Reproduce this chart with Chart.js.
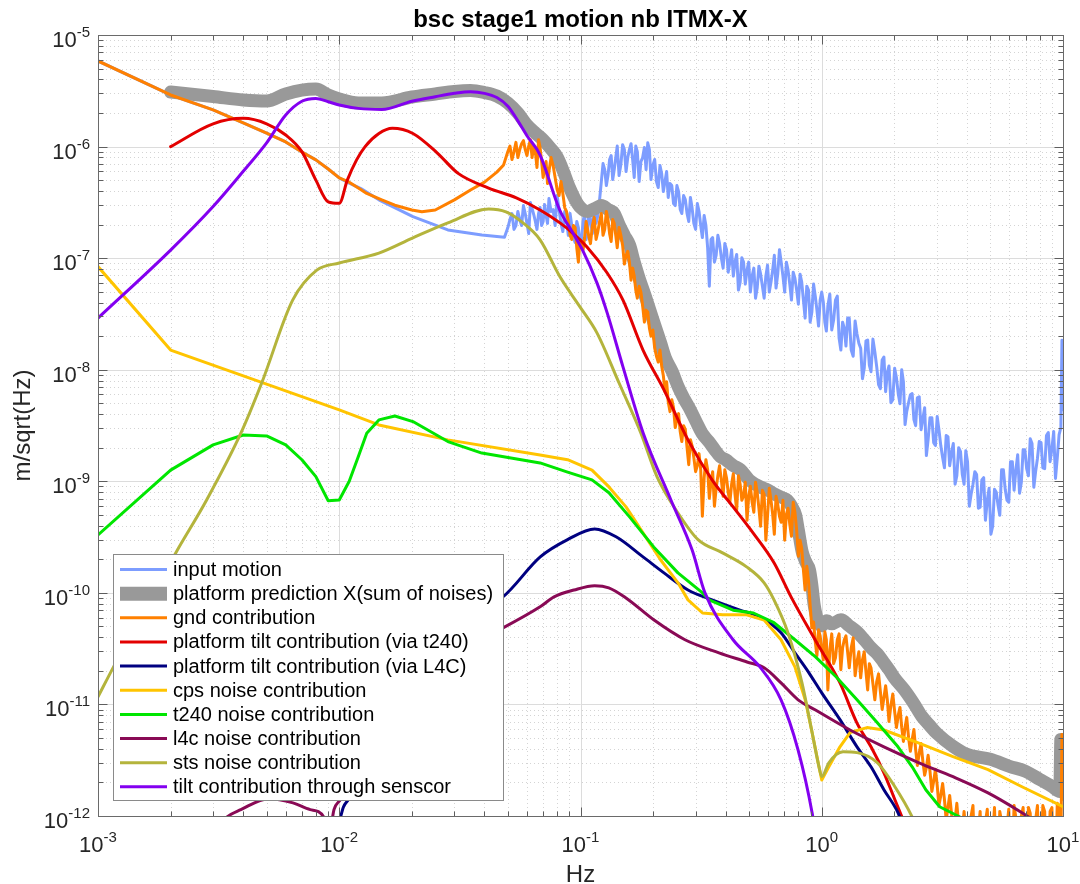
<!DOCTYPE html>
<html>
<head>
<meta charset="utf-8">
<script src="https://cdn.jsdelivr.net/npm/chart.js@4.4.1/dist/chart.umd.min.js"></script>
<style>
html,body{margin:0;padding:0;background:#fff;}
canvas{display:block;}
</style>
</head>
<body>
<canvas id="c" width="1080" height="884"></canvas>
<script>
// ---- axis decades and minor multipliers ----
const xTickExps = [-3, -2, -1, 0, 1];
const yTickExps = [-12, -11, -10, -9, -8, -7, -6, -5];
const minorMult = [2, 3, 4, 5, 6, 7, 8, 9];

// ---- frequency grids of the measured (noisy) spectra, Hz ----
const noiseFreq = [
  0.050,0.052,0.054,0.056,0.058,0.060,0.062,0.064,0.066,0.068,
  0.070,0.072,0.074,0.077,0.080,0.083,0.086,0.089,0.092,0.095,
  0.098,0.101,0.104,0.107,0.110,0.114,0.118,0.122,0.126,0.130,
  0.134,0.138,0.142,0.147,0.152,0.157,0.162,0.167,0.172,0.178,
  0.184,0.190,0.196,0.203,0.210,0.217,0.224,0.231,0.239,0.247,
  0.255,0.263,0.272,0.281,0.290,0.300,0.310,0.320,0.331,0.342,
  0.353,0.365,0.377,0.390,0.403,0.416,0.430,0.444,0.459,0.474,
  0.490,0.506,0.523,0.540,0.558,0.577,0.596,0.616,0.636,0.657,
  0.679,0.702,0.725,0.749,0.774,0.800,0.826,0.853,0.881,0.910,
  0.940,0.970,1.00,1.03,1.06,1.10,1.14,1.18,1.22,1.26,
  1.30,1.35,1.40,1.45,1.50,1.55,1.60,1.66,1.72,1.78,
  1.84,1.90,1.97,2.04,2.11,2.18,2.25,2.33,2.41,2.49,
  2.58,2.67,2.76,2.86,2.96,3.06,3.17,3.28,3.39,3.51,
  3.63,3.76,3.89,4.02,4.16,4.31,4.46,4.61,4.77,4.94,
  5.11,5.29,5.47,5.66,5.86,6.06,6.27,6.49,6.72,6.95,
  7.19,7.44,7.70,7.97,8.25,8.54,8.84,9.15,9.47,9.80,
  9.90,10.0
];
const noiseMidFreq = [
  0.051,0.053,0.055,0.057,0.059,0.061,0.063,0.065,0.067,0.069,
  0.071,0.073,0.0755,0.0785,0.0815,0.0845,0.0875,0.0905,0.0935,0.0965,
  0.0995,0.1025,0.1055,0.1085,0.112,0.116,0.120,0.124,0.128,0.132,
  0.136,0.140,0.1445,0.1495,0.1545,0.1595,0.1645,0.1695,0.175,0.181,
  0.187,0.193,0.1995,0.2065,0.2135,0.2205,0.2275,0.235,0.243,0.251,
  0.259,0.2675,0.2765,0.2855,0.295,0.305,0.315,0.3255,0.3365,0.3475,
  0.359,0.371,0.3835,0.3965,0.4095,0.423,0.437,0.4515,0.4665,0.482,
  0.498,0.5145,0.5315,0.549,0.5675,0.5865,0.606,0.626,0.6465,0.668,
  0.6905,0.7135,0.737,0.7615,0.787,0.813,0.8395,0.867,0.8955,0.925,
  0.955,0.985,1.015,1.045,1.08,1.12,1.16,1.20,1.24,1.28,
  1.325,1.375,1.425,1.475,1.525,1.575,1.63,1.69,1.75,1.81,
  1.87,1.935,2.005,2.075,2.145,2.215,2.29,2.37,2.45,2.535,
  2.625,2.715,2.81,2.91,3.01,3.115,3.225,3.335,3.45,3.57,
  3.695,3.825,3.955,4.09,4.235,4.385,4.535,4.69,4.855,5.025,
  5.2,5.38,5.565,5.76,5.96,6.165,6.38,6.605,6.835,7.07,
  7.315,7.57,7.835,8.11,8.395,8.69,8.995,9.31,9.635
];

// ---- input motion, m/sqrt(Hz) ----
const inputLowFreq = [0.001,0.002,0.003,0.004,0.005,0.006,0.007,0.008,0.009,0.010,0.011,0.0123,0.0146,0.0202,0.0282,0.039,0.0484];
const inputLowVal  = [5.85e-6,2.9e-6,2.13e-6,1.63e-6,1.32e-6,1.1e-6,8.95e-7,7.6e-7,6.3e-7,5.24e-7,4.7e-7,4.2e-7,3.33e-7,2.36e-7,1.79e-7,1.61e-7,1.54e-7];
const inputNoiseVal = [
  1.88e-7,2.51e-7,1.96e-7,2.22e-7,2.96e-7,2.05e-7,3.15e-7,2.46e-7,1.81e-7,2.84e-7,
  2.13e-7,2.41e-7,3.42e-7,2.73e-7,3.64e-7,2.05e-7,2.62e-7,1.6e-7,1.96e-7,1.38e-7,
  1.88e-7,1.47e-7,2.51e-7,1.73e-7,2.22e-7,2.84e-7,2.41e-7,4.86e-7,6.22e-7,5.5e-7,
  8.31e-7,6.22e-7,1.01e-6,6.9e-7,9.4e-7,7.97e-7,1.06e-6,5.28e-7,9.02e-7,7.34e-7,
  9.8e-7,1.08e-6,5.06e-7,7.65e-7,4.29e-7,5.73e-7,4.86e-7,3.5e-7,4.47e-7,2.96e-7,
  3.95e-7,2.51e-7,3.35e-7,2.13e-7,2.84e-7,1.81e-7,2.62e-7,1.53e-7,1.96e-7,5.61e-8,
  1.53e-7,1.06e-7,1.35e-7,8.14e-8,1.19e-7,9.21e-8,6.9e-8,1.08e-7,6.1e-8,9.21e-8,
  7.81e-8,4.96e-8,8.14e-8,5.39e-8,7.19e-8,4.38e-8,8.66e-8,6.1e-8,1.06e-7,7.19e-8,
  9.21e-8,4.96e-8,7.81e-8,4.21e-8,6.62e-8,3.87e-8,6.1e-8,2.9e-8,5.17e-8,3.29e-8,
  4.57e-8,2.46e-8,4.96e-8,2.67e-8,3.72e-8,2.27e-8,4.21e-8,1.92e-8,2.67e-8,1.63e-8,
  2.9e-8,1.32e-8,2.09e-8,1.56e-8,1.03e-8,1.84e-8,9.6e-9,1.44e-8,7.34e-9,1.22e-8,
  6.35e-9,1.08e-8,5.39e-9,8.48e-9,4.96e-9,7.81e-9,4.21e-9,5.97e-9,3.57e-9,5.61e-9,
  2.9e-9,4.57e-9,2.36e-9,3.72e-9,2.09e-9,2.9e-9,1.63e-9,2.57e-9,1.38e-9,2.18e-9,
  1.12e-9,1.84e-9,9.4e-10,1.5e-9,7.65e-10,1.22e-9,5.73e-10,1.03e-9,4.47e-10,8.66e-10,
  3.95e-10,7.97e-10,4.96e-10,1.27e-9,6.76e-10,1.5e-9,8.31e-10,1.73e-9,9.8e-10,1.92e-9,
  1.12e-9,2.18e-9,1.22e-9,2.27e-9,1.32e-9,2.57e-9,1.5e-9,2.79e-9,1.63e-9,3.03e-9,
  1.84e-8,4.38e-9
];
const inputMidVal = [
  2.22e-7,1.81e-7,2.62e-7,1.96e-7,2.51e-7,1.66e-7,2.79e-7,2.13e-7,2.51e-7,1.96e-7,
  3.03e-7,2.05e-7,2.62e-7,1.96e-7,2.73e-7,1.73e-7,2.22e-7,2.51e-7,1.53e-7,2.13e-7,
  1.3e-7,2.13e-7,1.47e-7,2.62e-7,1.66e-7,2.05e-7,3.35e-7,7.04e-7,4.47e-7,7.65e-7,
  5.06e-7,7.97e-7,5.5e-7,1.04e-6,5.97e-7,9.4e-7,7.65e-7,1.01e-6,4.86e-7,7.97e-7,
  6.22e-7,9.4e-7,6.76e-7,4.86e-7,6.76e-7,3.95e-7,5.97e-7,4.66e-7,3.09e-7,4.47e-7,
  2.73e-7,3.64e-7,2.51e-7,3.5e-7,2.05e-7,3.09e-7,1.96e-7,2.41e-7,1.24e-7,1.47e-7,
  9.21e-8,1.6e-7,1.01e-7,1.35e-7,7.49e-8,1.19e-7,9.21e-8,5.17e-8,1.01e-7,5.85e-8,
  9.21e-8,6.9e-8,4.38e-8,8.48e-8,5.61e-8,6.9e-8,4.96e-8,7.81e-8,5.39e-8,1.19e-7,
  6.9e-8,9.21e-8,5.85e-8,7.49e-8,5.17e-8,7.19e-8,4.21e-8,5.61e-8,2.67e-8,5.85e-8,
  3.42e-8,4.21e-8,4.04e-8,2.22e-8,4.76e-8,2.79e-8,4.57e-8,1.5e-8,2.36e-8,2.9e-8,
  1.5e-8,2.73e-8,1.73e-8,8.31e-9,1.81e-8,1.1e-8,1.88e-8,1.06e-8,6.76e-9,1.3e-8,
  9.4e-9,5.06e-9,1.03e-8,6.1e-9,1.0e-8,3.22e-9,5.06e-9,6.1e-9,3.15e-9,5.73e-9,
  3.64e-9,1.7e-9,3.72e-9,2.22e-9,3.8e-9,2.09e-9,1.32e-9,2.51e-9,1.81e-9,9.4e-10,
  2.0e-9,1.15e-9,1.88e-9,5.97e-10,9.4e-10,1.15e-9,5.85e-10,1.08e-9,6.76e-10,3.35e-10,
  8.48e-10,6.1e-10,1.27e-9,8.48e-10,6.49e-10,1.5e-9,1.27e-9,7.81e-10,1.92e-9,1.3e-9,
  2.41e-9,8.84e-10,1.6e-9,2.22e-9,1.3e-9,2.73e-9,1.96e-9,1.06e-9,2.62e-9
];

// ---- platform prediction (sum of noises) ----
const sumFreq = [0.002,0.003,0.004,0.005,0.006,0.007,0.008,0.009,0.010,0.012,0.015,0.020,0.025,0.030,0.035,0.040,0.045,0.050,0.055,0.060,
  0.065,0.070,0.075,0.080,0.085,0.090,0.095,0.100,0.107,0.115,0.122,0.130,0.138,0.145,0.152,0.160,0.167,0.175,0.185,0.195,
  0.205,0.215,0.225,0.24,0.255,0.27,0.285,0.30,0.32,0.34,0.36,0.38,0.40,0.43,0.46,0.50,0.53,0.56,0.60,0.64,
  0.68,0.72,0.75,0.78,0.80,0.83,0.86,0.89,0.91,0.93,0.96,1.0,1.05,1.1,1.2,1.3,1.4,1.5,1.6,1.7,
  1.8,1.9,2.0,2.2,2.4,2.6,2.8,3.0,3.5,4.0,5.0,6.0,7.0,8.0,9.0,9.7,9.8,10];
const sumVal = [3.08e-6,2.81e-6,2.62e-6,2.56e-6,2.96e-6,3.21e-6,3.28e-6,2.9e-6,2.67e-6,2.46e-6,2.46e-6,2.78e-6,2.96e-6,3.12e-6,3.18e-6,3.05e-6,2.84e-6,2.46e-6,2.0e-6,1.56e-6,
  1.32e-6,1.15e-6,9.7e-7,8.07e-7,5.97e-7,4.29e-7,3.35e-7,2.84e-7,2.62e-7,2.79e-7,2.96e-7,2.73e-7,2.51e-7,1.96e-7,1.6e-7,1.3e-7,9.21e-8,6.62e-8,4.66e-8,3.29e-8,
  2.36e-8,1.73e-8,1.27e-8,9.6e-9,6.9e-9,5.39e-9,4.38e-9,3.5e-9,2.67e-9,2.27e-9,1.92e-9,1.66e-9,1.56e-9,1.38e-9,1.27e-9,1.03e-9,9.4e-10,8.84e-10,8.31e-10,7.65e-10,
  7.19e-10,6.76e-10,5.97e-10,4.96e-10,3.64e-10,2.32e-10,1.88e-10,1.6e-10,1.17e-10,7.81e-11,5.73e-11,5.06e-11,5.61e-11,5.28e-11,5.73e-11,5.06e-11,4.47e-11,3.8e-11,3.22e-11,2.84e-11,
  2.41e-11,2.05e-11,1.73e-11,1.35e-11,1.03e-11,7.81e-12,6.49e-12,5.5e-12,4.21e-12,3.57e-12,3.22e-12,2.79e-12,2.51e-12,2.13e-12,1.84e-12,1.66e-12,4.86e-12,4.38e-12];

// ---- gnd contribution ----
const gndLowFreq = [0.001,0.002,0.003,0.004,0.005,0.006,0.007,0.008,0.009,0.010,0.011,0.012,0.013,0.015,0.017,0.020,0.022,0.025,0.030,0.035,0.040,0.045,0.048];
const gndLowVal  = [5.85e-6,2.9e-6,2.13e-6,1.63e-6,1.32e-6,1.1e-6,8.95e-7,7.6e-7,6.3e-7,5.24e-7,4.8e-7,4.25e-7,3.8e-7,3.33e-7,2.98e-7,2.7e-7,2.6e-7,2.7e-7,3.33e-7,4.08e-7,4.8e-7,5.9e-7,6.85e-7];
const gndNoiseVal = [
  9.02e-7,7.65e-7,1.09e-6,9.4e-7,1.13e-6,8.31e-7,1.15e-6,1.01e-6,6.49e-7,9.8e-7,
  5.28e-7,7.34e-7,5.97e-7,6.76e-7,4.12e-7,4.86e-7,2.84e-7,2.13e-7,1.47e-7,1.88e-7,
  9.21e-8,1.3e-7,1.53e-7,1.81e-7,1.35e-7,2.32e-7,1.73e-7,2.51e-7,1.81e-7,2.22e-7,
  1.41e-7,2.05e-7,1.24e-7,1.6e-7,8.84e-8,1.15e-7,6.35e-8,6.9e-8,4.38e-8,4.96e-8,
  2.67e-8,3.29e-8,2.0e-8,1.56e-8,1.17e-8,1.08e-8,6.35e-9,5.17e-9,5.39e-9,3.03e-9,
  4.04e-9,2.27e-9,2.9e-9,1.41e-9,2.09e-9,1.22e-9,1.77e-9,4.86e-10,1.56e-9,7.04e-10,
  1.22e-9,8.66e-10,1.38e-9,7.34e-10,1.07e-9,6.49e-10,1.17e-9,5.5e-10,9.4e-10,7.34e-10,
  4.47e-10,9.02e-10,5.28e-10,7.97e-10,3.95e-10,7.65e-10,4.86e-10,6.76e-10,3.35e-10,6.22e-10,
  4.29e-10,2.96e-10,5.73e-10,3.22e-10,5.28e-10,2.13e-10,2.51e-10,1.06e-10,1.3e-10,4.86e-11,
  3.64e-11,4.66e-11,3.09e-11,4.47e-11,1.35e-11,4.29e-11,2.62e-11,4.29e-11,3.22e-11,4.12e-11,
  2.13e-11,3.95e-11,2.41e-11,1.73e-11,2.96e-11,1.35e-11,2.13e-11,1.1e-11,1.88e-11,9.02e-12,
  1.47e-11,7.04e-12,1.24e-11,6.22e-12,9.4e-12,4.66e-12,7.65e-12,3.8e-12,5.97e-12,2.84e-12,
  4.47e-12,2.32e-12,3.5e-12,1.66e-12,2.62e-12,1.24e-12,1.96e-12,9.21e-13,1.53e-12,6.9e-13,
  1.3e-12,5.85e-13,1.1e-12,4.96e-13,1.0e-12,4.38e-13,7.49e-13,4.04e-13,8.84e-13,3.87e-13,
  6.35e-13,3.72e-13,1.1e-12,3.57e-13,8.14e-13,3.57e-13,1.24e-12,3.42e-13,1.0e-12,3.42e-13,
  1.19e-12,3.42e-13,9.21e-13,3.42e-13,1.24e-12,3.42e-13,1.1e-12,3.57e-13,1.3e-12,4.96e-13,
  5.39e-12,1.41e-12
];
const gndMidVal = [
  1.01e-6,9.02e-7,7.97e-7,1.06e-6,9.4e-7,1.01e-6,7.97e-7,9.02e-7,1.15e-6,7.34e-7,
  6.22e-7,4.66e-7,7.97e-7,5.28e-7,3.64e-7,3.8e-7,2.62e-7,1.6e-7,1.96e-7,1.24e-7,
  1.47e-7,1.19e-7,2.13e-7,1.53e-7,1.96e-7,1.47e-7,2.13e-7,1.6e-7,2.62e-7,1.66e-7,
  2.22e-7,1.6e-7,1.88e-7,1.3e-7,1.06e-7,9.21e-8,8.14e-8,5.17e-8,5.61e-8,3.72e-8,
  3.42e-8,2.36e-8,2.27e-8,1.32e-8,1.5e-8,8.84e-9,7.81e-9,4.21e-9,4.57e-9,3.57e-9,
  2.79e-9,3.15e-9,2.0e-9,2.36e-9,1.63e-9,1.38e-9,1.27e-9,1.08e-9,1.27e-9,9.8e-10,
  5.97e-10,1.12e-9,1.03e-9,1.27e-9,7.97e-10,9.4e-10,7.65e-10,1.12e-9,6.76e-10,9.8e-10,
  7.34e-10,6.49e-10,9.8e-10,5.73e-10,8.31e-10,2.96e-10,8.66e-10,5.06e-10,7.34e-10,4.86e-10,
  6.76e-10,5.06e-10,4.12e-10,6.49e-10,3.64e-10,2.96e-10,1.6e-10,1.73e-10,7.65e-11,5.5e-11,
  2.73e-11,4.12e-11,2.51e-11,3.8e-11,3.09e-11,2.32e-11,3.8e-11,2.05e-11,3.8e-11,2.96e-11,
  3.22e-11,1.81e-11,2.96e-11,2.51e-11,1.96e-11,2.32e-11,1.53e-11,1.6e-11,1.3e-11,1.15e-11,
  1.1e-11,9.8e-12,8.66e-12,7.97e-12,6.22e-12,6.22e-12,5.06e-12,4.86e-12,3.95e-12,3.64e-12,
  3.09e-12,2.73e-12,2.51e-12,2.05e-12,1.88e-12,1.53e-12,1.41e-12,1.19e-12,1.06e-12,9.21e-13,
  8.14e-13,7.49e-13,6.9e-13,6.1e-13,1.24e-12,5.17e-13,1.1e-12,4.76e-13,1.15e-12,4.38e-13,
  1.19e-12,4.04e-13,8.84e-13,4.04e-13,1.15e-12,3.87e-13,9.6e-13,3.87e-13,1.19e-12,3.87e-13,
  1.06e-12,3.72e-13,1.24e-12,3.72e-13,1.1e-12,3.72e-13,1.19e-12,3.72e-13,1.15e-12
];

// ---- platform tilt contribution (via t240) ----
const t240TiltFreq = [0.002,0.003,0.004,0.005,0.006,0.007,0.008,0.009,0.010,0.0108,0.0118,0.0128,0.0146,0.0166,0.0202,0.0255,0.0311,0.0416,0.0542,0.068,
  0.0822,0.0928,0.1064,0.1288,0.150,0.1816,0.2218,0.279,0.351,0.429,0.519,0.634,0.746,0.938,1.19,1.40,1.60,1.81,2.01,2.15,2.35];
const t240TiltVal = [1.0e-6,1.6e-6,1.79e-6,1.6e-6,1.27e-6,9.0e-7,5.0e-7,3.2e-7,3.1e-7,5.0e-7,7.6e-7,1.0e-6,1.31e-6,1.46e-6,1.31e-6,8.75e-7,5.75e-7,4.25e-7,3.47e-7,2.7e-7,
  2.07e-7,1.68e-7,1.26e-7,7.4e-8,4.2e-8,1.5e-8,6.6e-9,2.35e-9,1.03e-9,5.9e-10,3.45e-10,1.86e-10,9.2e-11,3.8e-11,1.56e-11,6.8e-12,4.17e-12,2.44e-12,1.4e-12,9.8e-13,6e-13];

// ---- platform tilt contribution (via L4C) ----
const l4cTiltFreq = [0.0099,0.0104,0.0109,0.0216,0.0348,0.0477,0.0681,0.0884,0.1145,0.1404,0.1816,0.2218,0.279,0.351,0.458,0.554,0.678,0.774,0.885,1.0,1.19,1.4,1.6,1.81,2.07,2.2];
const l4cTiltVal = [8e-13,1.2e-12,1.4e-12,2.5e-11,6.4e-11,9.2e-11,2.1e-10,3.0e-10,3.74e-10,3.18e-10,2.1e-10,1.51e-10,1.06e-10,8.65e-11,7.0e-11,6.1e-11,4.4e-11,2.9e-11,1.92e-11,1.27e-11,7.3e-12,4.17e-12,2.76e-12,1.72e-12,1.07e-12,7.5e-13];

// ---- cps noise contribution ----
const cpsFreq = [0.001,0.002,0.01,0.0146,0.0282,0.068,0.0884,0.1116,0.1312,0.1544,0.1816,0.2146,0.2535,0.279,0.3205,0.388,0.488,0.577,0.678,0.774,
  0.854,0.912,0.974,1.0,1.07,1.19,1.31,1.54,1.81,2.53,3.5,4.89,6.76,10];
const cpsVal = [8.4e-8,1.5e-8,4.37e-9,3.2e-9,2.35e-9,1.72e-9,1.56e-9,1.26e-9,8.9e-10,5.9e-10,3.45e-10,1.98e-10,1.23e-10,8.65e-11,6.6e-11,6.35e-11,6.35e-11,5.7e-11,3.8e-11,2.17e-11,
  1.1e-11,5.6e-12,2.76e-12,2.1e-12,2.76e-12,4.17e-12,5.6e-12,6.2e-12,5.9e-12,4.5e-12,3.4e-12,2.6e-12,1.83e-12,1.21e-12];

// ---- t240 noise contribution ----
const t240Freq = [0.001,0.002,0.003,0.004,0.005,0.006,0.007,0.008,0.009,0.010,0.011,0.012,0.013,0.0146,0.017,0.0202,0.0282,0.039,0.068,0.0884,
  0.1116,0.1312,0.1597,0.201,0.2535,0.3205,0.341,0.429,0.521,0.634,0.774,0.942,1.146,1.4,1.70,2.07,2.37,2.70,3.08,3.74,4.2];
const t240Val = [3.3e-10,1.26e-9,2.12e-9,2.6e-9,2.55e-9,2.12e-9,1.56e-9,1.1e-9,6.7e-10,6.8e-10,1.0e-9,1.67e-9,2.7e-9,3.55e-9,3.85e-9,3.43e-9,2.27e-9,1.79e-9,1.46e-9,1.21e-9,
  1.03e-9,7.9e-10,4.8e-10,2.58e-10,1.51e-10,1.0e-10,8.65e-11,7.0e-11,6.6e-11,5.4e-11,3.8e-11,2.67e-11,1.77e-11,1.1e-11,6.85e-12,4.17e-12,2.76e-12,1.72e-12,1.21e-12,9.8e-13,7e-13];

// ---- l4c noise contribution ----
const l4cFreq = [0.003,0.00343,0.00391,0.0051,0.00643,0.00758,0.00862,0.009,0.00951,0.0101,0.0178,0.0315,0.0477,0.068,0.0777,0.094,0.1145,0.131,0.1544,0.2018,
  0.271,0.375,0.49,0.577,0.678,0.798,0.938,1.31,1.81,2.53,3.5,4.89,6.76,7.2,8.0];
const l4cVal = [7e-13,9.8e-13,1.14e-12,1.43e-12,1.31e-12,1.14e-12,9.8e-13,6e-13,1.14e-12,1.4e-12,1.1e-11,3.1e-11,4.85e-11,7.5e-11,9.2e-11,1.06e-10,1.16e-10,1.11e-10,9.0e-11,5.7e-11,
  3.8e-11,2.9e-11,2.4e-11,2.13e-11,1.56e-11,1.1e-11,8.95e-12,5.9e-12,4.17e-12,3.0e-12,2.25e-12,1.61e-12,1.07e-12,9.8e-13,8.5e-13];

// ---- sts noise contribution ----
const stsFreq = [0.001,0.00116,0.0021,0.00282,0.00391,0.00477,0.00641,0.00807,0.01,0.0146,0.0202,0.0282,0.0416,0.0491,0.0578,0.068,0.0822,0.0995,0.117,0.1445,
  0.178,0.2075,0.2535,0.307,0.388,0.488,0.577,0.634,0.724,0.828,0.912,0.974,1.0,1.07,1.225,1.4,1.70,2.01,2.37,2.6];
const stsVal = [1.17e-11,2.17e-11,2.28e-10,6.8e-10,2.7e-9,7.6e-9,4.2e-8,7.8e-8,9.05e-8,1.11e-7,1.52e-7,2.07e-7,2.76e-7,2.6e-7,2.07e-7,1.46e-7,6.8e-8,3.66e-8,2.14e-8,7.6e-9,
  2.7e-9,1.1e-9,5.2e-10,3.0e-10,2.28e-10,1.71e-10,1.23e-10,8.65e-11,4.4e-11,1.56e-11,5.6e-12,2.76e-12,2.25e-12,3.0e-12,3.76e-12,3.7e-12,3.0e-12,1.83e-12,9.8e-13,6e-13];

// ---- tilt contribution through senscor ----
const senscorFreq = [0.001,0.002,0.003,0.004,0.005,0.006,0.007,0.008,0.009,0.01,0.012,0.015,0.02,0.025,0.03,0.035,0.04,0.045,0.05,0.055,
  0.06,0.068,0.082,0.093,0.102,0.117,0.129,0.15,0.182,0.237,0.29,0.328,0.429,0.554,0.678,0.798,0.912,0.95];
const senscorVal = [2.9e-8,1.18e-7,2.9e-7,6.0e-7,1.08e-6,1.92e-6,2.55e-6,2.7e-6,2.52e-6,2.36e-6,2.2e-6,2.15e-6,2.55e-6,2.8e-6,3.0e-6,3.1e-6,3.0e-6,2.75e-6,2.3e-6,1.7e-6,
  1.25e-6,8.4e-7,2.7e-7,1.68e-7,1.18e-7,6.0e-8,3.23e-8,1.06e-8,2.7e-9,6.8e-10,2.43e-10,1.0e-10,3.8e-11,2.17e-11,1.1e-11,3.9e-12,1.07e-12,6e-13];

const seriesNames = [
  'input motion',
  'platform prediction X(sum of noises)',
  'gnd contribution',
  'platform tilt contribution (via t240)',
  'platform tilt contribution (via L4C)',
  'cps noise contribution',
  't240 noise contribution',
  'l4c noise contribution',
  'sts noise contribution',
  'tilt contribution through senscor'
];

// ---- styling ----
const seriesColors = ['#7d9dff','#999999','#ff8000','#e30000','#000080','#ffc400','#00e600','#890a55','#b4b43c','#8300f0'];
const seriesWidths = [3, 13, 3, 3, 3, 3, 3, 3, 3, 3];
const seriesSmooth = [false, true, false, true, true, false, false, true, true, true];
const FONT = '"Liberation Sans", Arial, Helvetica, sans-serif';

function pts(fs, vs) { return fs.map((f, i) => ({ x: f, y: vs[i] })); }
// interleave two sampled sets into one frequency-ordered trace
function mergeByFreq(fa, va, fb, vb) {
  return pts(fa, va).concat(pts(fb, vb)).sort((p, q) => p.x - q.x);
}

const seriesData = [
  pts(inputLowFreq, inputLowVal).concat(mergeByFreq(noiseFreq, inputNoiseVal, noiseMidFreq, inputMidVal)),
  pts(sumFreq, sumVal),
  pts(gndLowFreq, gndLowVal).concat(mergeByFreq(noiseFreq, gndNoiseVal, noiseMidFreq, gndMidVal)),
  pts(t240TiltFreq, t240TiltVal),
  pts(l4cTiltFreq, l4cTiltVal),
  pts(cpsFreq, cpsVal),
  pts(t240Freq, t240Val),
  pts(l4cFreq, l4cVal),
  pts(stsFreq, stsVal),
  pts(senscorFreq, senscorVal)
];

const datasets = seriesData.map((d, i) => ({
  label: seriesNames[i],
  data: d,
  borderColor: seriesColors[i],
  backgroundColor: seriesColors[i],
  borderWidth: seriesWidths[i],
  pointRadius: 0,
  pointHoverRadius: 0,
  tension: 0,
  cubicInterpolationMode: seriesSmooth[i] ? 'monotone' : 'default',
  capBezierPoints: false,
  borderJoinStyle: 'round',
  borderCapStyle: 'round',
  fill: false,
  order: seriesNames.length - i   // later series are painted on top
}));

// grid, frame, tick marks, tick labels, titles and legend
const axesPainter = {
  id: 'axesPainter',
  beforeDatasetsDraw(chart) {
    const { ctx, chartArea: a, scales: { x, y } } = chart;
    ctx.save();
    ctx.lineWidth = 1;
    // minor grid (dotted)
    ctx.strokeStyle = '#d4d4d4';
    ctx.setLineDash([1, 3]);
    ctx.beginPath();
    for (const e of xTickExps.slice(0, -1)) for (const m of minorMult) {
      const px = Math.round(x.getPixelForValue(m * Math.pow(10, e))) + 0.5;
      ctx.moveTo(px, a.top); ctx.lineTo(px, a.bottom);
    }
    for (const e of yTickExps.slice(0, -1)) for (const m of minorMult) {
      const py = Math.round(y.getPixelForValue(m * Math.pow(10, e))) + 0.5;
      ctx.moveTo(a.left, py); ctx.lineTo(a.right, py);
    }
    ctx.stroke();
    // major grid (solid)
    ctx.setLineDash([]);
    ctx.strokeStyle = '#dcdcdc';
    ctx.beginPath();
    for (const e of xTickExps) {
      const px = Math.round(x.getPixelForValue(Math.pow(10, e))) + 0.5;
      ctx.moveTo(px, a.top); ctx.lineTo(px, a.bottom);
    }
    for (const e of yTickExps) {
      const py = Math.round(y.getPixelForValue(Math.pow(10, e))) + 0.5;
      ctx.moveTo(a.left, py); ctx.lineTo(a.right, py);
    }
    ctx.stroke();
    ctx.restore();
  },
  afterDatasetsDraw(chart) {
    const { ctx, chartArea: a, scales: { x, y } } = chart;
    ctx.save();
    const L = Math.round(a.left) + 0.5, R = Math.round(a.right) + 0.5;
    const T = Math.round(a.top) + 0.5, B = Math.round(a.bottom) + 0.5;
    // tick marks on all four sides
    ctx.strokeStyle = '#5e5e5e';
    ctx.lineWidth = 1;
    ctx.beginPath();
    const xt = (v, len) => { const px = Math.round(x.getPixelForValue(v)) + 0.5;
      ctx.moveTo(px, B); ctx.lineTo(px, B - len); ctx.moveTo(px, T); ctx.lineTo(px, T + len); };
    const yt = (v, len) => { const py = Math.round(y.getPixelForValue(v)) + 0.5;
      ctx.moveTo(L, py); ctx.lineTo(L + len, py); ctx.moveTo(R, py); ctx.lineTo(R - len, py); };
    for (const e of xTickExps) { xt(Math.pow(10, e), 9); if (e < 1) for (const m of minorMult) xt(m * Math.pow(10, e), 5); }
    for (const e of yTickExps) { yt(Math.pow(10, e), 9); if (e < -5) for (const m of minorMult) yt(m * Math.pow(10, e), 5); }
    ctx.stroke();
    // frame
    ctx.strokeStyle = '#6a6a6a';
    ctx.strokeRect(L, T, R - L, B - T);

    // tick labels: 10 with superscript exponent
    ctx.fillStyle = '#262626';
    ctx.textBaseline = 'alphabetic';
    const baseFont = '22px ' + FONT, expFont = '15px ' + FONT;
    for (const e of xTickExps) {
      const px = x.getPixelForValue(Math.pow(10, e));
      const ex = String(e);
      ctx.font = baseFont; const wb = ctx.measureText('10').width;
      ctx.font = expFont; const we = ctx.measureText(ex).width;
      const x0 = px - (wb + we) / 2;
      ctx.textAlign = 'left';
      ctx.font = baseFont; ctx.fillText('10', x0, a.bottom + 36);
      ctx.font = expFont; ctx.fillText(ex, x0 + wb, a.bottom + 26);
    }
    for (const e of yTickExps) {
      const py = y.getPixelForValue(Math.pow(10, e));
      const ex = String(e);
      ctx.font = expFont; const we = ctx.measureText(ex).width;
      ctx.textAlign = 'right';
      ctx.fillText(ex, a.left - 8, py + 2);
      ctx.font = baseFont; ctx.fillText('10', a.left - 8 - we, py + 12);
    }

    // axis labels
    ctx.fillStyle = '#262626';
    ctx.font = '24px ' + FONT;
    ctx.textAlign = 'center';
    ctx.fillText('Hz', (a.left + a.right) / 2, 882);
    ctx.save();
    ctx.translate(30, (a.top + a.bottom) / 2);
    ctx.rotate(-Math.PI / 2);
    ctx.fillText('m/sqrt(Hz)', 0, 0);
    ctx.restore();

    // title
    ctx.fillStyle = '#000';
    ctx.font = 'bold 24px ' + FONT;
    ctx.fillText('bsc stage1 motion nb ITMX-X', (a.left + a.right) / 2, 27);

    // legend box
    const lx = 113.5, ly = 554.5, lw = 390, lh = 246;
    ctx.fillStyle = '#fff';
    ctx.fillRect(lx, ly, lw, lh);
    ctx.strokeStyle = '#8a8a8a';
    ctx.lineWidth = 1;
    ctx.strokeRect(lx, ly, lw, lh);
    ctx.font = '20px ' + FONT;
    ctx.textAlign = 'left';
    ctx.textBaseline = 'middle';
    chart.data.datasets.forEach((ds, i) => {
      const ry = 569.5 + i * 24.15;
      ctx.strokeStyle = ds.borderColor;
      ctx.lineWidth = i === 1 ? 14 : 3;
      ctx.lineCap = 'butt';
      ctx.beginPath(); ctx.moveTo(120, ry); ctx.lineTo(167, ry); ctx.stroke();
      ctx.fillStyle = '#000';
      ctx.fillText(ds.label, 173, ry + 1);
    });
    ctx.restore();
  }
};

new Chart(document.getElementById('c'), {
  type: 'line',
  data: { datasets },
  options: {
    responsive: false,
    devicePixelRatio: 1,
    animation: false,
    events: [],
    layout: { padding: { left: 98, right: 17, top: 35, bottom: 68 } },
    plugins: { legend: { display: false }, title: { display: false }, tooltip: { enabled: false } },
    scales: {
      x: { type: 'logarithmic', min: 1e-3, max: 10, display: false },
      y: { type: 'logarithmic', min: 1e-12, max: 1e-5, display: false }
    }
  },
  plugins: [axesPainter]
});
</script>
</body>
</html>
